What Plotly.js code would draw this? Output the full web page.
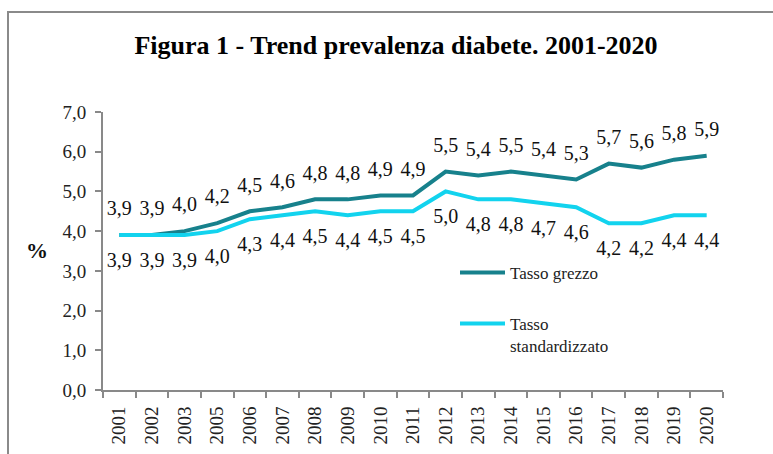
<!DOCTYPE html>
<html>
<head>
<meta charset="utf-8">
<script src="https://cdn.plot.ly/plotly-3.0.1.min.js"></script>
<style>html,body{margin:0;padding:0;background:#fff;}#chart{width:773px;height:454px;}</style>
</head>
<body>
<div id="chart"></div>
<script>
const years = ['2001','2002','2003','2005','2006','2007','2008','2009','2010','2011','2012','2013','2014','2015','2016','2017','2018','2019','2020'];
const tassoGrezzo = [3.9,3.9,4.0,4.2,4.5,4.6,4.8,4.8,4.9,4.9,5.5,5.4,5.5,5.4,5.3,5.7,5.6,5.8,5.9];
const tassoStandardizzato = [3.9,3.9,3.9,4.0,4.3,4.4,4.5,4.4,4.5,4.5,5.0,4.8,4.8,4.7,4.6,4.2,4.2,4.4,4.4];
const seriesNames = ['Tasso grezzo','Tasso<br>standardizzato'];
const yTicks = [0,1,2,3,4,5,6,7];

const fmt = v => v.toFixed(1).replace('.', ',');
const serif = 'Liberation Serif';

const traces = [
  {
    x: years, y: tassoGrezzo, name: seriesNames[0], type: 'scatter',
    mode: 'lines+markers+text', text: tassoGrezzo.map(fmt), textposition: 'top center',
    textfont: {family: serif, size: 20, color: '#111'},
    line: {color: '#17818C', width: 4},
    marker: {size: 22, color: 'rgba(0,0,0,0)'},
    legend: 'legend', cliponaxis: false, hoverinfo: 'x+y'
  },
  {
    x: years, y: tassoStandardizzato, name: seriesNames[1], type: 'scatter',
    mode: 'lines+markers+text', text: tassoStandardizzato.map(fmt), textposition: 'bottom center',
    textfont: {family: serif, size: 20, color: '#111'},
    line: {color: '#12D3EE', width: 4},
    marker: {size: 25, color: 'rgba(0,0,0,0)'},
    legend: 'legend2', cliponaxis: false, hoverinfo: 'x+y'
  }
];

const L = 103, R = 723, T = 112, B = 390;
const px = v => (v - L) / (R - L);
const py = v => (B - v) / (B - T);

const layout = {
  width: 773, height: 454,
  margin: {l: L, r: 773 - R, t: T, b: 454 - B, pad: 0, autoexpand: false},
  paper_bgcolor: '#fff', plot_bgcolor: '#fff',
  separators: ', ',
  font: {family: serif, color: '#222', size: 19},
  title: {
    text: '<b>Figura 1 - Trend prevalenza diabete. 2001-2020</b>',
    font: {family: serif, size: 26, color: '#000'},
    xref: 'container', x: 396 / 773, xanchor: 'center',
    yref: 'container', y: 1 - 45 / 454, yanchor: 'middle'
  },
  xaxis: {
    type: 'category', categoryorder: 'array', categoryarray: years,
    range: [-0.5, years.length - 0.5], autorange: false,
    tickson: 'boundaries', ticks: 'outside', ticklen: 6, tickwidth: 2, tickcolor: '#898989',
    showline: true, linecolor: '#898989', linewidth: 2,
    showgrid: false, zeroline: false, tickangle: -90, ticklabelstandoff: 7,
    tickfont: {family: serif, size: 19, color: '#222'}, automargin: false
  },
  yaxis: {
    range: [0, 7], autorange: false, tickvals: yTicks, tickformat: '.1f',
    ticks: 'outside', ticklen: 6, tickwidth: 2, tickcolor: '#898989',
    showline: true, linecolor: '#898989', linewidth: 2,
    showgrid: false, zeroline: false, ticklabelstandoff: 5,
    tickfont: {family: serif, size: 19, color: '#222'}, automargin: false
  },
  showlegend: true,
  legend: {
    x: px(455), y: py(255), xanchor: 'left', yanchor: 'top', itemwidth: 45,
    bgcolor: 'rgba(0,0,0,0)', font: {family: serif, size: 17, color: '#222'}
  },
  legend2: {
    x: px(455), y: py(306), xanchor: 'left', yanchor: 'top', valign: 'top', itemwidth: 45,
    bgcolor: 'rgba(0,0,0,0)', font: {family: serif, size: 17, color: '#222'}
  },
  annotations: [
    {text: '<b>%</b>', xref: 'paper', yref: 'paper', x: px(37), y: py(250),
     xanchor: 'center', yanchor: 'middle', showarrow: false,
     font: {family: serif, size: 22, color: '#111'}}
  ],
  shapes: [
    {type: 'rect', xref: 'paper', yref: 'paper', x0: px(8), x1: px(900), y0: py(600), y1: py(12),
     line: {color: '#8a8a8a', width: 2}, fillcolor: 'rgba(0,0,0,0)', layer: 'below'}
  ]
};

Plotly.newPlot('chart', traces, layout, {displayModeBar: false, staticPlot: true});
</script>
</body>
</html>
